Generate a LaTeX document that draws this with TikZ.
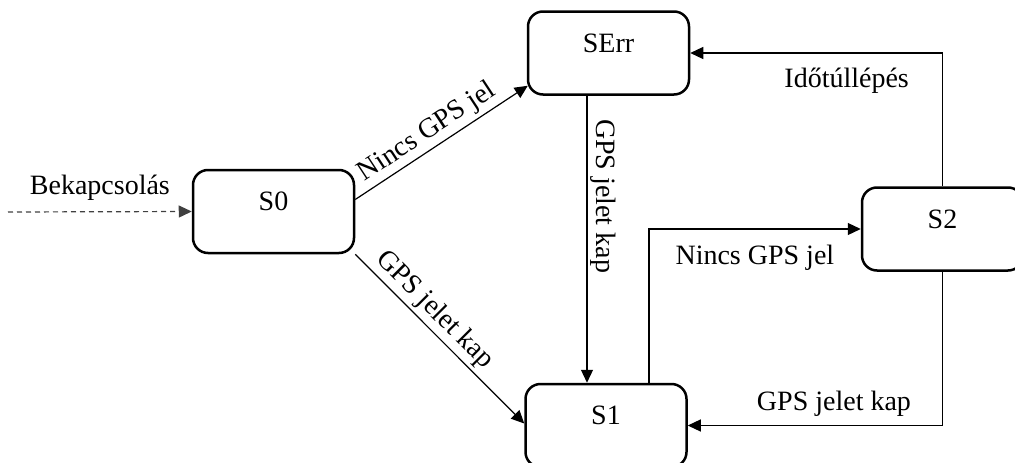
\documentclass[tikz,border=0pt]{standalone}
\usepackage{fontspec}
\setmainfont{Liberation Serif}
\usetikzlibrary{arrows.meta}
\newcommand\lblfont{\fontsize{28}{34}\selectfont}
\begin{document}
\begin{tikzpicture}[x=1pt,y=-1pt,
  state/.style={draw, line width=2.5pt, rounded corners=15pt, minimum width=161pt,
    minimum height=83pt, inner sep=0pt, label={[font=\lblfont, yshift=10pt]center:#1}},
  conn/.style={line width=1.2pt, -{Triangle[length=13pt,width=12pt]}},
  lbl/.style={font=\lblfont}]
\clip (0,0) rectangle (1015,463);
\node[state=S0] (s0) at (273.5,211.5) {};
\node[state=SErr] (serr) at (608.5,53) {};
\node[state=S1] (s1) at (606,425.5) {};
\node[state=S2] (s2) at (942.5,229) {};
\coordinate (in) at (8,212);

\draw[conn, dash pattern=on 5pt off 4pt, draw=black!75] (in) -- (s0.west)
  node[lbl, midway, anchor=base, yshift=17pt] {Bekapcsolás};
\draw[conn] ([yshift=12pt]s0.east) -- ([shift={(1pt,10pt)}]serr.south west)
  node[lbl, pos=0.47, sloped, above] {Nincs GPS jel};
\draw[conn] (s0.south east) -- ([yshift=2pt]s1.west)
  node[lbl, pos=0.4, sloped, above] {GPS jelet kap};
\draw[conn] ([xshift=-21.5pt]serr.south) -- ([xshift=-19pt]s1.north)
  node[lbl, pos=0.35, rotate=-90, anchor=south] {GPS jelet kap};
\draw[conn] ([xshift=43pt]s1.north) |- (s2.west)
  node[lbl, pos=0.75, anchor=base, yshift=-35pt] {Nincs GPS jel};
\draw[conn] (s2.north) |- (serr.east)
  node[lbl, pos=0.69, anchor=base, yshift=-34pt] {Időtúllépés};
\draw[conn] (s2.south) |- (s1.east)
  node[lbl, pos=0.713, anchor=base, yshift=15pt] {GPS jelet kap};
\end{tikzpicture}
\end{document}
